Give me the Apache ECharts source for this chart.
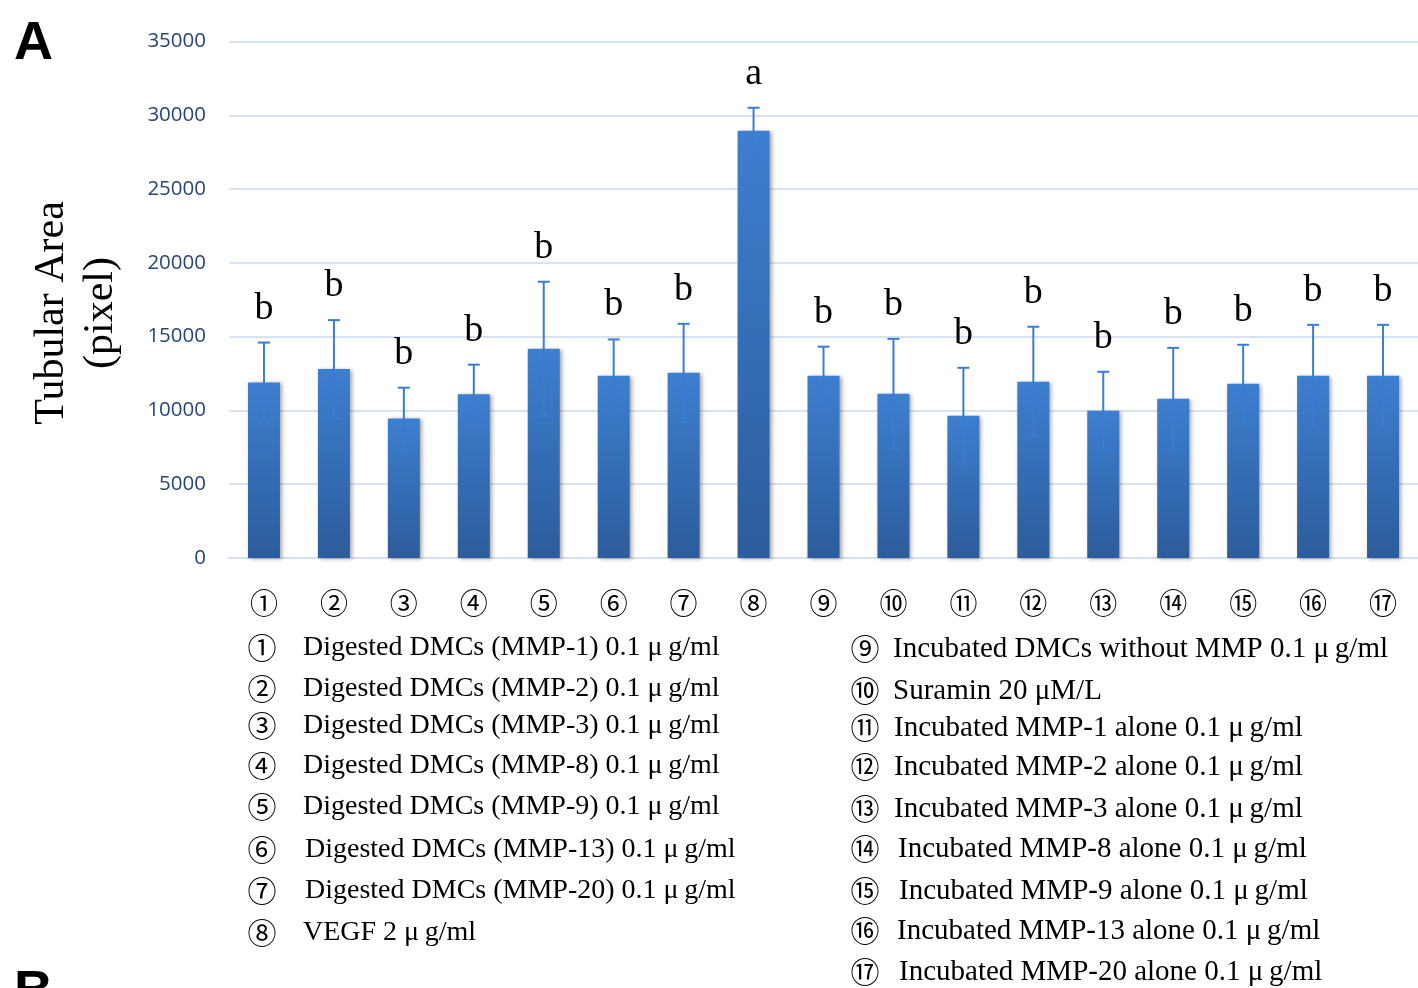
<!DOCTYPE html>
<html>
<head>
<meta charset="utf-8">
<script src="https://cdn.jsdelivr.net/npm/echarts@6/dist/echarts.min.js"></script>
<style>
html,body{margin:0;padding:0;background:#fff;}
#chart{width:1418px;height:988px;}
</style>
</head>
<body>
<div id="chart"></div>
<script>
// ---- data ----
const categories = ['①','②','③','④','⑤','⑥','⑦','⑧','⑨','⑩','⑪','⑫','⑬','⑭','⑮','⑯','⑰'];
const means  = [11900, 12800, 9460, 11100, 14180, 12350, 12550, 28950, 12350, 11130, 9640, 11950, 9980, 10790, 11810, 12350, 12350];
const errors = [2700, 3320, 2080, 2000, 4540, 2460, 3320, 1560, 1970, 3720, 3250, 3720, 2640, 3450, 2640, 3450, 3450];
const letters = ['b','b','b','b','b','b','b','a','b','b','b','b','b','b','b','b','b'];
const yTicks = [0, 5000, 10000, 15000, 20000, 25000, 30000, 35000];
const legendLeft = [
  ['①', 'Digested DMCs (MMP-1) 0.1 μ\u2009g/ml'],
  ['②', 'Digested DMCs (MMP-2) 0.1 μ\u2009g/ml'],
  ['③', 'Digested DMCs (MMP-3) 0.1 μ\u2009g/ml'],
  ['④', 'Digested DMCs (MMP-8) 0.1 μ\u2009g/ml'],
  ['⑤', 'Digested DMCs (MMP-9) 0.1 μ\u2009g/ml'],
  ['⑥', 'Digested DMCs (MMP-13) 0.1 μ\u2009g/ml'],
  ['⑦', 'Digested DMCs (MMP-20) 0.1 μ\u2009g/ml'],
  ['⑧', 'VEGF 2 μ\u2009g/ml']
];
const legendRight = [
  ['⑨', 'Incubated DMCs without MMP 0.1 μ\u2009g/ml'],
  ['⑩', 'Suramin 20 μM/L'],
  ['⑪', 'Incubated MMP-1 alone 0.1 μ\u2009g/ml'],
  ['⑫', 'Incubated MMP-2 alone 0.1 μ\u2009g/ml'],
  ['⑬', 'Incubated MMP-3 alone 0.1 μ\u2009g/ml'],
  ['⑭', 'Incubated MMP-8 alone 0.1 μ\u2009g/ml'],
  ['⑮', 'Incubated MMP-9 alone 0.1 μ\u2009g/ml'],
  ['⑯', 'Incubated MMP-13 alone 0.1 μ\u2009g/ml'],
  ['⑰', 'Incubated MMP-20 alone 0.1 μ\u2009g/ml']
];

// ---- layout ----
const leftRowsY  = [648, 689, 726, 766, 807, 850, 891, 933];
const rightRowsY = [649, 691, 728, 767, 809, 849, 891, 931, 972];
const leftTextX  = [303, 303, 303, 303, 303, 305, 305, 303];
const rightTextX = [893, 893, 894, 894, 894, 898, 899, 897, 899];
const serif = '"Liberation Serif", "Times New Roman", serif';
const cjk = '"Noto Sans CJK JP", "Noto Sans CJK SC", sans-serif';

const graphics = [];
graphics.push({type:'text', left:14, top:17, style:{text:'A', font:'bold 54px "Liberation Sans", Arial, sans-serif', fill:'#000'}});
graphics.push({type:'text', left:14, top:966, style:{text:'B', font:'bold 54px "Liberation Sans", Arial, sans-serif', fill:'#000'}});
graphics.push({type:'text', x:76, y:313, rotation:Math.PI/2,
  style:{text:'Tubular Area\n(pixel)', font:'42px ' + serif, fill:'#000', align:'center', verticalAlign:'middle', lineHeight:49}});
legendLeft.forEach((r,i)=>{
  graphics.push({type:'text', x:262, y:leftRowsY[i], style:{text:r[0], font:'29px ' + cjk, fill:'#000', align:'center', verticalAlign:'middle'}});
  graphics.push({type:'text', x:leftTextX[i], y:leftRowsY[i], style:{text:r[1], font:'28px ' + serif, fill:'#000', align:'left', verticalAlign:'middle'}});
});
legendRight.forEach((r,i)=>{
  graphics.push({type:'text', x:865, y:rightRowsY[i], style:{text:r[0], font:'29px ' + cjk, fill:'#000', align:'center', verticalAlign:'middle'}});
  graphics.push({type:'text', x:rightTextX[i], y:rightRowsY[i], style:{text:r[1], font:'29px ' + serif, fill:'#000', align:'left', verticalAlign:'middle'}});
});

const chart = echarts.init(document.getElementById('chart'), null, {renderer:'canvas'});
const errData = categories.map((c,i)=>[i, means[i], errors[i]]);

chart.setOption({
  animation:false,
  backgroundColor:'#fff',
  grid:{left:229, right:0, top:41.5, bottom:430, containLabel:false},
  xAxis:{
    type:'category', data:categories,
    axisLine:{show:true, lineStyle:{color:'#d6e0ee', width:2}},
    axisTick:{show:false},
    axisLabel:{fontFamily:'"Noto Sans CJK JP"', fontSize:28, color:'#000', margin:31, interval:0}
  },
  yAxis:{
    type:'value', min:yTicks[0], max:yTicks[yTicks.length-1], interval:5000,
    axisLine:{show:false}, axisTick:{show:false},
    splitLine:{lineStyle:{color:'#d9e3f0', width:2}},
    axisLabel:{fontFamily:'"Open Sans", "Noto Sans", sans-serif', fontSize:20.5, color:'#284676', margin:23,
      formatter:function(v){ return String(v); }}
  },
  graphic:graphics,
  series:[
    {
      type:'bar', data:means, barWidth:32,
      itemStyle:{
        color:new echarts.graphic.LinearGradient(0,0,0,1,[{offset:0,color:'#3d7fd0'},{offset:1,color:'#2c5c9b'}]),
        shadowColor:'rgba(0,0,0,0.35)', shadowBlur:4, shadowOffsetX:2, shadowOffsetY:1
      },
      z:2
    },
    {
      type:'custom', data:errData, z:3,
      renderItem:function(params, api){
        const idx = api.value(0), m = api.value(1), e = api.value(2);
        const top = api.coord([idx, m + e]);
        const bot = api.coord([idx, m - e]);
        const x = top[0];
        const cw = 6;
        const ls = {stroke:'#3a7cd2', lineWidth:2};
        return {type:'group', children:[
          {type:'line', shape:{x1:x, y1:top[1], x2:x, y2:bot[1]}, style:ls},
          {type:'line', shape:{x1:x-cw, y1:top[1], x2:x+cw, y2:top[1]}, style:ls},
          {type:'line', shape:{x1:x-cw, y1:bot[1], x2:x+cw, y2:bot[1]}, style:ls},
          {type:'text', style:{text:letters[idx], x:x, y:top[1]-34, align:'center', verticalAlign:'middle', font:'38px ' + serif, fill:'#000'}}
        ]};
      }
    }
  ]
});
</script>
</body>
</html>
